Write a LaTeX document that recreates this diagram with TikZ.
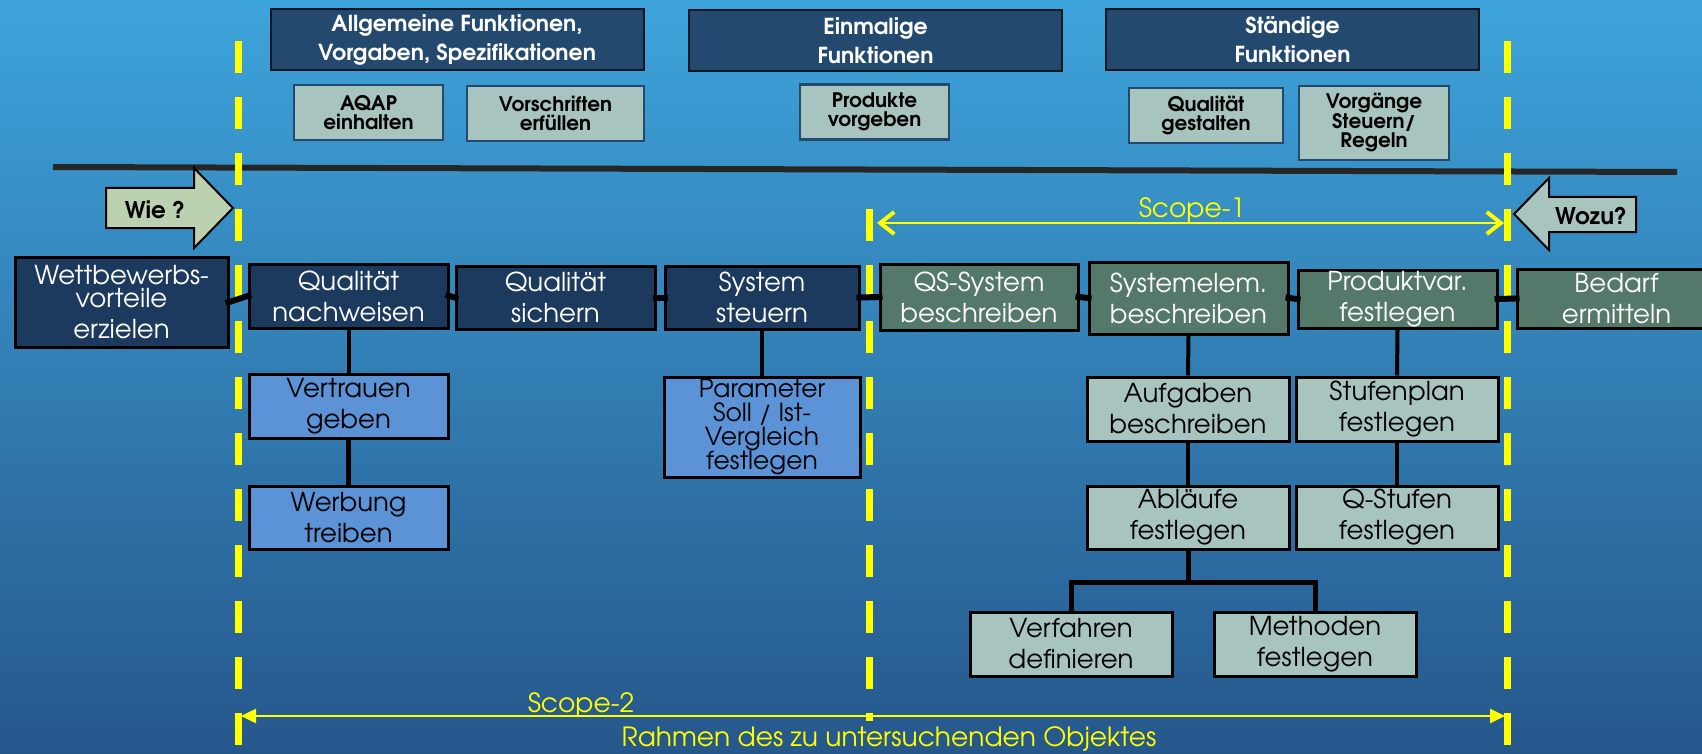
\documentclass[tikz,border=0pt]{standalone}
\usepackage{fontspec}
\setmainfont{TeX Gyre Adventor}
\usetikzlibrary{arrows.meta}
\definecolor{himmel}{RGB}{61,164,219}
\definecolor{tiefe}{RGB}{38,87,139}
\definecolor{kopfblau}{RGB}{35,73,111}
\definecolor{nachtblau}{RGB}{27,58,94}
\definecolor{graugruen}{RGB}{84,120,106}
\definecolor{hellgruen}{RGB}{168,196,190}
\definecolor{mittelblau}{RGB}{91,147,214}
\definecolor{lind}{RGB}{187,209,176}
\definecolor{gelb}{RGB}{255,255,0}

\begin{document}
\begin{tikzpicture}[x=1pt,y=-1pt,
  box/.style={draw=black,line width=3pt,inner sep=0pt,align=center,font=\fontsize{26}{31}\selectfont},
  kopf/.style={fill=kopfblau,draw=black!70!kopfblau,line width=2pt,inner sep=0pt,align=center,text=white,
    minimum width=373pt,minimum height=61pt,font=\bfseries\fontsize{22}{29}\selectfont},
  teil/.style={fill=hellgruen,draw=kopfblau,line width=2.5pt,inner sep=0pt,align=center,minimum height=55pt,
    font=\bfseries\fontsize{20}{19.5}\selectfont},
  haupt/.style={box,fill=nachtblau,text=white},
  gruen/.style={box,fill=graugruen,text=white},
  blau/.style={box,fill=mittelblau},
  hell/.style={box,fill=hellgruen},
  stub/.style={line width=6pt,shorten <=-4pt,shorten >=-4pt},
  ast/.style={line width=4pt},
  grenze/.style={gelb,line width=7pt,dash pattern=on 32pt off 24pt},
  gelbtext/.style={text=gelb,inner sep=0pt,anchor=base,font=\fontsize{26.5}{30}\selectfont},
  frage/.style={draw=black,line width=2pt,line join=miter}]
  \useasboundingbox (0,0) rectangle (1702,754);
  \clip (0,0) rectangle (1702,754);
  \shade[top color=himmel,bottom color=tiefe] (0,0) rectangle (1702,754);

  \coordinate (LA) at (53,167);
  \coordinate (LE) at (1677,172);
  \draw[line width=6pt,black!85] (LA) -- (LE);

  \node[kopf] (allg) at (457,39.5) {Allgemeine Funktionen,\\Vorgaben, Spezifikationen};
  \node[kopf] (einm) at (875.5,41) {Einmalige\\Funktionen};
  \node[kopf] (staend) at (1292.5,39.5) {Ständige\\Funktionen};

  \node[teil,minimum width=149pt] (aqap) at (368.5,112.5) {AQAP\\einhalten};
  \node[teil,minimum width=177pt] (vorschr) at (555.5,113.5) {Vorschriften\\erfüllen};
  \node[teil,minimum width=149pt] (produkte) at (874.5,112) {Produkte\\vorgeben};
  \node[teil,minimum width=154pt] (gestalten) at (1206,115.5) {Qualität\\gestalten};
  \node[teil,minimum width=150pt,minimum height=74pt] (vorgaenge) at (1374,123) {Vorgänge\\Steuern/\\Regeln};

  \coordinate (G1o) at (238,41);
  \coordinate (G1u) at (238,745);
  \coordinate (G2o) at (869,209);
  \coordinate (G2u) at (869,721);
  \coordinate (G3o) at (1507,41);
  \coordinate (G3u) at (1507,745);
  \draw[grenze] (G1o) -- (G1u);
  \draw[grenze] (G2o) -- (G2u);
  \draw[grenze] (G3o) -- (G3u);

  \filldraw[frage,fill=lind] (106,188) -- (194,188) -- (194,168) -- (233,208) -- (194,248) -- (194,228) -- (106,228) -- cycle;
  \node[font=\bfseries\fontsize{23}{23}\selectfont] (wie) at (155,210) {Wie ?};
  \filldraw[frage,fill=hellgruen] (1514,214) -- (1549,178) -- (1549,197) -- (1636,197) -- (1636,232) -- (1549,232) -- (1549,250) -- cycle;
  \node[font=\bfseries\fontsize{23}{23}\selectfont] (wozu) at (1591,216) {Wozu?};

  \coordinate (S1a) at (877,223);
  \coordinate (S1e) at (1504,223);
  \draw[gelb,line width=2.5pt,{Straight Barb[length=14pt,width=22pt,line width=4pt]}-{Straight Barb[length=14pt,width=22pt,line width=4pt]}] (S1a) -- (S1e);
  \node[gelbtext] (scopeeins) at (1192,218) {Scope-1};
  \coordinate (S2a) at (241,716);
  \coordinate (S2e) at (1505,716);
  \draw[gelb,line width=2.5pt,{Triangle[length=15pt,width=14pt]}-{Triangle[length=15pt,width=14pt]}] (S2a) -- (S2e);
  \node[gelbtext] (scopezwei) at (581,712) {Scope-2};
  \node[gelbtext] (rahmen) at (889,746) {Rahmen des zu untersuchenden Objektes};

  \node[haupt,minimum width=213pt,minimum height=90pt] (wettb) at (121.5,302) {Wettbewerbs-\\[-8pt]vorteile\\erzielen};
  \node[haupt,minimum width=199pt,minimum height=64pt] (nachw) at (348.5,296) {Qualität\\nachweisen};
  \node[haupt,minimum width=199pt,minimum height=63pt] (sichern) at (555.5,297.5) {Qualität\\sichern};
  \node[haupt,minimum width=194pt,minimum height=63pt] (steuern) at (762,297.5) {System\\steuern};
  \node[gruen,minimum width=198pt,minimum height=66pt] (qssys) at (979,297) {QS-System\\beschreiben};
  \node[gruen,minimum width=199pt,minimum height=72pt] (sysel) at (1188.5,298) {Systemelem.\\beschreiben};
  \node[gruen,minimum width=199pt,minimum height=58pt] (prodvar) at (1397.5,299) {Produktvar.\\festlegen};
  \node[gruen,minimum width=199pt,minimum height=59pt] (bedarf) at (1616.5,298.5) {Bedarf\\ermitteln};

  \node[blau,minimum width=199pt,minimum height=64pt] (vertrauen) at (348.5,406) {Vertrauen\\geben};
  \node[blau,minimum width=199pt,minimum height=63pt] (werbung) at (348.5,517.5) {Werbung\\treiben};
  \node[blau,minimum width=196pt,minimum height=100pt,font=\fontsize{25}{24}\selectfont] (parameter) at (762,427) {Parameter\\Soll / Ist-\\Vergleich\\festlegen};
  \node[hell,minimum width=202pt,minimum height=64pt] (aufgaben) at (1188,409) {Aufgaben\\beschreiben};
  \node[hell,minimum width=202pt,minimum height=64pt] (stufenplan) at (1397,409) {Stufenplan\\festlegen};
  \node[hell,minimum width=202pt,minimum height=63pt] (ablaeufe) at (1188,517.5) {Abläufe\\festlegen};
  \node[hell,minimum width=202pt,minimum height=63pt] (qstufen) at (1397,517.5) {Q-Stufen\\festlegen};
  \node[hell,minimum width=202pt,minimum height=64pt] (verfahren) at (1071,644) {Verfahren\\definieren};
  \node[hell,minimum width=202pt,minimum height=64pt] (methoden) at (1315,644) {Methoden\\festlegen};

  \draw[stub] (wettb.east) -- (nachw.west);
  \draw[stub] (nachw.east) -- (sichern.west);
  \draw[stub] (sichern.east) -- (steuern.west);
  \draw[stub] (steuern.east) -- (qssys.west);
  \draw[stub] (qssys.east) -- (sysel.west);
  \draw[stub] (sysel.east) -- (prodvar.west);
  \draw[stub] (prodvar.east) -- (bedarf.west);

  \draw[ast] (nachw.south) -- (vertrauen.north);
  \draw[ast,line width=5pt] (vertrauen.south) -- (werbung.north);
  \draw[ast] (steuern.south) -- (parameter.north);
  \draw[ast] (sysel.south) -- (aufgaben.north);
  \draw[ast] (aufgaben.south) -- (ablaeufe.north);
  \draw[ast] (prodvar.south) -- (stufenplan.north);
  \draw[ast] (stufenplan.south) -- (qstufen.north);
  \draw[ast,line width=5pt] (ablaeufe.south) -- ++(0,32) -| (verfahren.north);
  \draw[ast,line width=5pt] (ablaeufe.south) -- ++(0,32) -| (methoden.north);
\end{tikzpicture}
\end{document}
